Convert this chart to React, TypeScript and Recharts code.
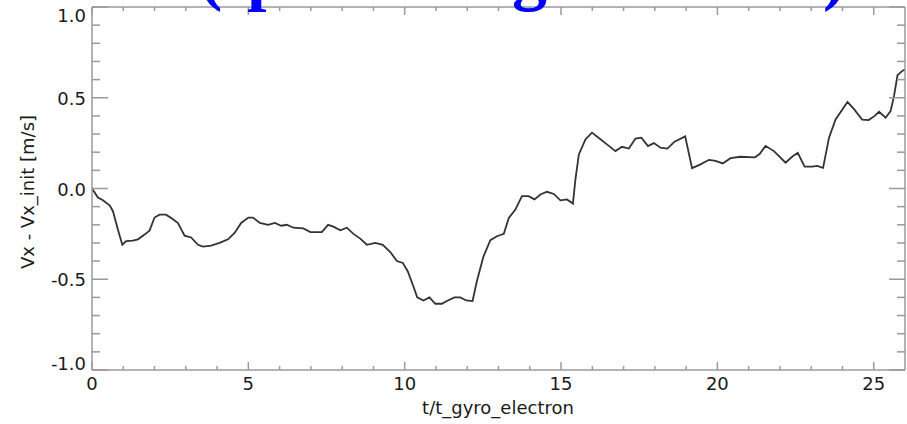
import React from 'react';
import { LineChart, Line, XAxis, YAxis } from 'recharts';

// time in units of t_gyro_electron
const tValues = [
  0, 0.19, 0.35, 0.57, 0.67, 0.83, 0.97, 1.09, 1.31, 1.47, 1.68, 1.84, 2.0, 2.16, 2.37, 2.59, 2.75, 2.96,
  3.17, 3.39, 3.55, 3.81, 4.08, 4.35, 4.56, 4.77, 5.0, 5.15, 5.37, 5.63, 5.85, 6.05, 6.23, 6.44, 6.76,
  6.98, 7.35, 7.55, 7.72, 7.94, 8.15, 8.36, 8.58, 8.79, 9.06, 9.3, 9.54, 9.75, 9.94, 10.1, 10.28, 10.4,
  10.6, 10.79, 10.98, 11.19, 11.35, 11.59, 11.78, 11.97, 12.17, 12.31, 12.52, 12.74, 12.95, 13.17, 13.33,
  13.54, 13.75, 13.96, 14.15, 14.34, 14.55, 14.77, 14.98, 15.19, 15.38, 15.46, 15.57, 15.78, 15.99, 16.2,
  16.47, 16.74, 16.95, 17.17, 17.38, 17.57, 17.78, 17.97, 18.18, 18.4, 18.63, 18.97, 19.19, 19.46, 19.73,
  19.94, 20.17, 20.42, 20.74, 21.2, 21.35, 21.54, 21.81, 22.18, 22.39, 22.57, 22.79, 23.03, 23.19, 23.38,
  23.57, 23.78, 24.16, 24.37, 24.63, 24.84, 25.03, 25.17, 25.38, 25.54, 25.65, 25.76, 25.91, 26.0,
];

// Vx - Vx_init [m/s]
const vValues = [
  0, -0.05, -0.065, -0.094, -0.125, -0.227, -0.31, -0.29, -0.287, -0.28, -0.254, -0.232, -0.16, -0.144,
  -0.144, -0.17, -0.19, -0.26, -0.27, -0.31, -0.32, -0.315, -0.3, -0.28, -0.245, -0.19, -0.16, -0.16,
  -0.19, -0.2, -0.19, -0.205, -0.2, -0.216, -0.22, -0.24, -0.24, -0.2, -0.21, -0.23, -0.216, -0.25,
  -0.276, -0.31, -0.3, -0.31, -0.35, -0.4, -0.41, -0.457, -0.54, -0.6, -0.617, -0.6, -0.635, -0.635,
  -0.62, -0.6, -0.6, -0.617, -0.62, -0.51, -0.374, -0.285, -0.263, -0.25, -0.162, -0.116, -0.042,
  -0.042, -0.06, -0.033, -0.018, -0.03, -0.065, -0.06, -0.083, 0.05, 0.188, 0.27, 0.308, 0.28, 0.243,
  0.206, 0.23, 0.22, 0.275, 0.28, 0.234, 0.25, 0.225, 0.22, 0.258, 0.287, 0.112, 0.133, 0.158, 0.152,
  0.138, 0.167, 0.175, 0.172, 0.19, 0.235, 0.206, 0.142, 0.175, 0.197, 0.12, 0.12, 0.125, 0.114, 0.28,
  0.38, 0.477, 0.437, 0.38, 0.377, 0.4, 0.423, 0.39, 0.427, 0.51, 0.624, 0.648, 0.655,
];

const xTicks = [0, 1, 2, 3, 4, 5, 6, 7, 8, 9, 10, 11, 12, 13, 14, 15, 16, 17, 18, 19, 20, 21, 22, 23, 24, 25];
const yTicks = [-1.0, -0.9, -0.8, -0.7, -0.6, -0.5, -0.4, -0.3, -0.2, -0.1, 0.0, 0.1, 0.2, 0.3, 0.4, 0.5, 0.6, 0.7, 0.8, 0.9, 1.0];
const yMajorLabels = ['-1.0', '-0.5', '0.0', '0.5', '1.0'];

const xTitle = 't/t_gyro_electron';
const yTitle = 'Vx - Vx_init [m/s]';
const titleParts = ['(', 'phase 2: ', 'gradient B', ')'];

const data = tValues.map((t, i) => ({ t, v: vValues[i] }));

const FRAME = '#9a9a9a';
const LABEL_FONT = '"DejaVu Sans", sans-serif';
const LABEL_SIZE = 18;
const LABEL_COLOR = '#1a1a1a';

const isXMajor = (v: number) => Math.abs(v / 5 - Math.round(v / 5)) < 1e-6;
const isYMajor = (v: number) => Math.abs(v * 2 - Math.round(v * 2)) < 1e-6;

const BottomTick = (props: any) => {
  const { x, y, payload } = props;
  const v = payload.value;
  const major = isXMajor(v);
  return (
    <g>
      <line x1={x} x2={x} y1={y} y2={y - (major ? 8 : 4)} stroke={FRAME} strokeWidth={1.5} />
      {major && (
        <text x={x} y={y + 19.5} textAnchor="middle" fontFamily={LABEL_FONT} fontSize={LABEL_SIZE} fill={LABEL_COLOR}>
          {String(v)}
        </text>
      )}
    </g>
  );
};

const TopTick = (props: any) => {
  const { x, y, payload } = props;
  const major = isXMajor(payload.value);
  return <line x1={x} x2={x} y1={y} y2={y + (major ? 8 : 4)} stroke={FRAME} strokeWidth={1.5} />;
};

const LeftTick = (props: any) => {
  const { x, y, payload } = props;
  const v = payload.value;
  const major = isYMajor(v);
  let label = '';
  let dy = 7;
  if (major) {
    const idx = Math.round(v * 2) + 2;
    label = yMajorLabels[idx];
    if (idx === 4) dy = 15;
    if (idx === 0) dy = 0;
  }
  return (
    <g>
      <line x1={x} x2={x + (major ? 16 : 8)} y1={y} y2={y} stroke={FRAME} strokeWidth={1.5} />
      {major && (
        <text x={x - 6} y={y + dy} textAnchor="end" fontFamily={LABEL_FONT} fontSize={LABEL_SIZE} fill={LABEL_COLOR}>
          {label}
        </text>
      )}
    </g>
  );
};

const RightTick = (props: any) => {
  const { x, y, payload } = props;
  const major = isYMajor(payload.value);
  return <line x1={x} x2={x - (major ? 16 : 8)} y1={y} y2={y} stroke={FRAME} strokeWidth={1.5} />;
};

export default function App() {
  return (
    <div style={{ position: 'absolute', left: 0, top: 0, width: 907, height: 424, background: '#fff', overflow: 'hidden' }}>
      <LineChart width={907} height={424} data={data} margin={{ top: 6, right: 1, left: 91, bottom: 53 }}>
        <XAxis
          xAxisId="bottom"
          orientation="bottom"
          dataKey="t"
          type="number"
          domain={[0, 26]}
          ticks={xTicks}
          interval={0}
          height={1}
          tickSize={0}
          tickMargin={0}
          axisLine={{ stroke: FRAME, strokeWidth: 1.5 }}
          tick={BottomTick}
          allowDataOverflow
        />
        <XAxis
          xAxisId="top"
          orientation="top"
          dataKey="t"
          type="number"
          domain={[0, 26]}
          ticks={xTicks}
          interval={0}
          height={1}
          tickSize={0}
          tickMargin={0}
          axisLine={{ stroke: FRAME, strokeWidth: 1.5 }}
          tick={TopTick}
          allowDataOverflow
        />
        <YAxis
          yAxisId="left"
          orientation="left"
          type="number"
          domain={[-1, 1]}
          ticks={yTicks}
          interval={0}
          width={1}
          tickSize={0}
          tickMargin={0}
          axisLine={{ stroke: FRAME, strokeWidth: 1.5 }}
          tick={LeftTick}
          allowDataOverflow
        />
        <YAxis
          yAxisId="right"
          orientation="right"
          type="number"
          domain={[-1, 1]}
          ticks={yTicks}
          interval={0}
          width={1}
          tickSize={0}
          tickMargin={0}
          axisLine={{ stroke: FRAME, strokeWidth: 1.5 }}
          tick={RightTick}
          allowDataOverflow
        />
        <Line
          xAxisId="bottom"
          yAxisId="left"
          type="linear"
          dataKey="v"
          stroke="#333333"
          strokeWidth={1.8}
          dot={false}
          isAnimationActive={false}
        />
      </LineChart>
      <svg width={907} height={424} style={{ position: 'absolute', left: 0, top: 0, pointerEvents: 'none' }}>
        <text y={-3} fontFamily='"Liberation Serif", serif' fontWeight="bold" fontSize={70} fill="#0000ff">
          <tspan x={199}>{titleParts[0]}</tspan>
          <tspan x={247}>{titleParts[1]}</tspan>
          <tspan x={512}>{titleParts[2]}</tspan>
          <tspan x={823}>{titleParts[3]}</tspan>
        </text>
        <text x={498} y={414} textAnchor="middle" fontFamily={LABEL_FONT} fontSize={LABEL_SIZE} fill={LABEL_COLOR}>
          {xTitle}
        </text>
        <text
          x={0}
          y={0}
          transform="translate(34,192) rotate(-90)"
          textAnchor="middle"
          fontFamily={LABEL_FONT}
          fontSize={LABEL_SIZE}
          fill={LABEL_COLOR}
        >
          {yTitle}
        </text>
      </svg>
    </div>
  );
}
